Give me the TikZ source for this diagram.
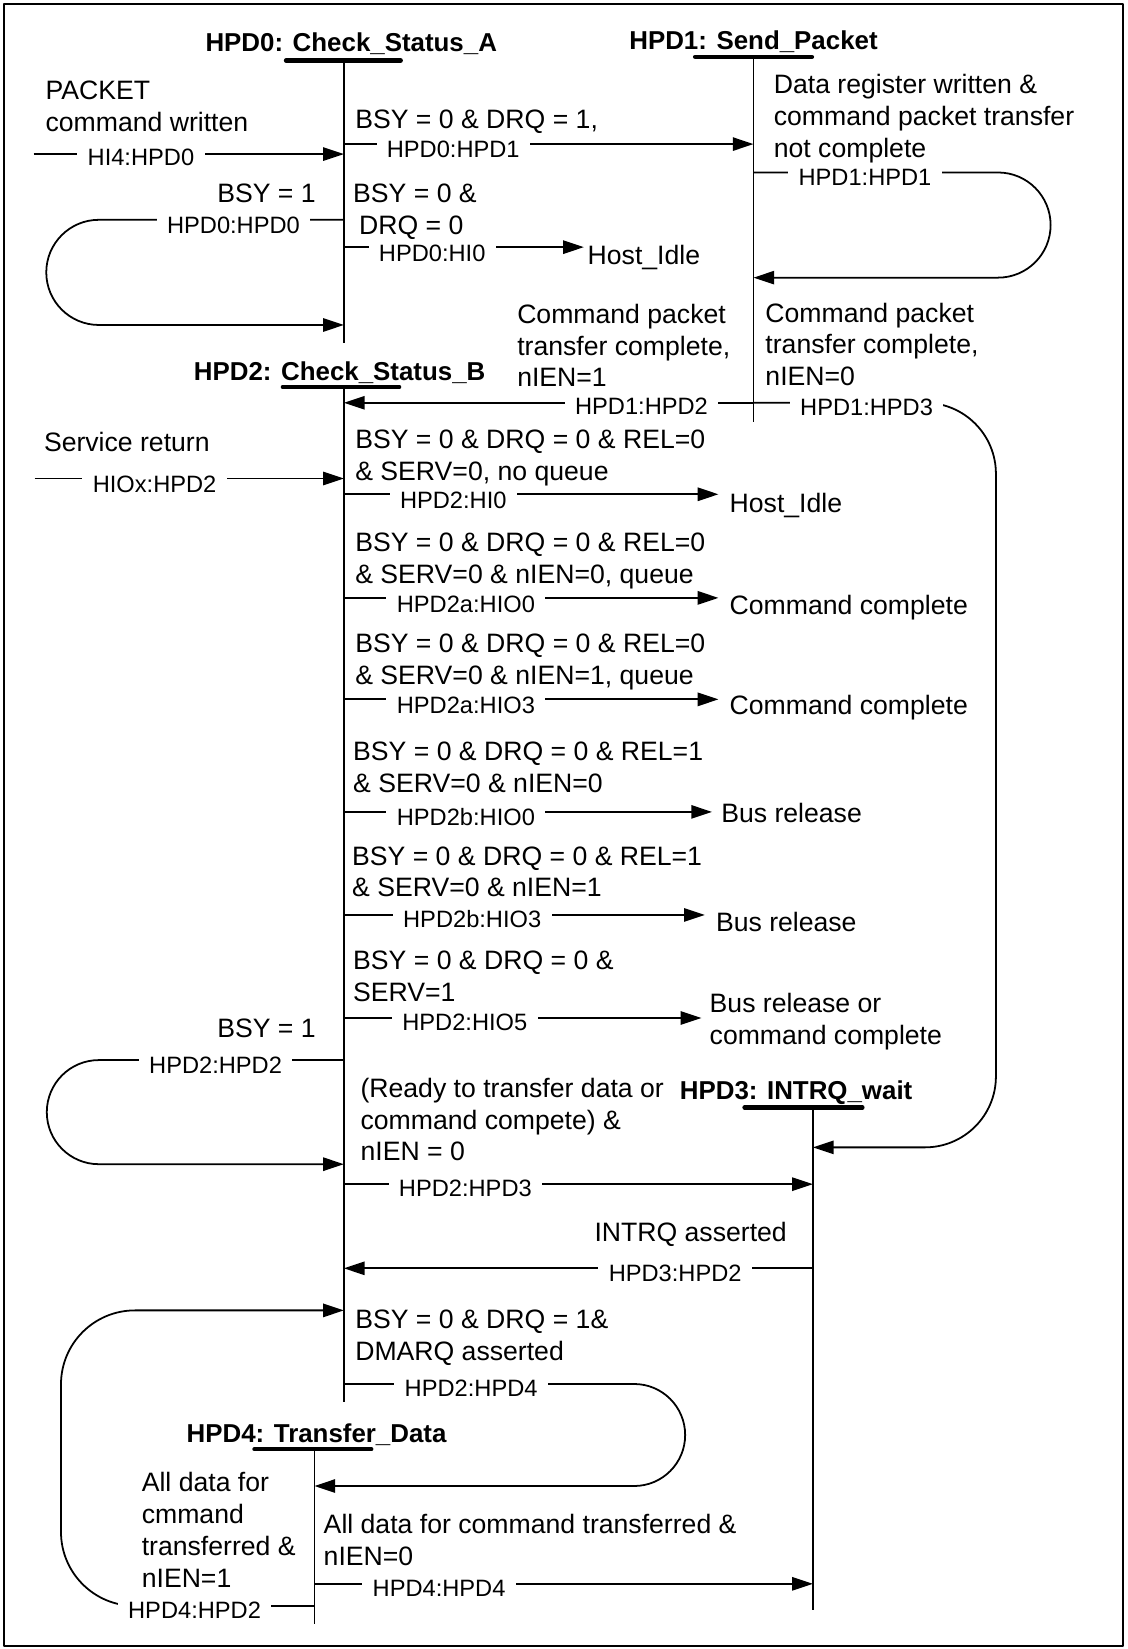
\documentclass[tikz,border=0pt]{standalone}
\usepackage{fontspec}
\setmainfont{Liberation Sans}
\usetikzlibrary{arrows.meta}
\begin{document}
\begin{tikzpicture}[x=0.025cm,y=-0.025cm,line width=1.2pt,line join=round,
  txt/.style={font=\fontsize{18}{21.6}\selectfont,inner sep=0pt,align=left,anchor=north west},
  ttl/.style={font=\fontsize{17.5}{21}\selectfont\bfseries,inner sep=0pt,anchor=base},
  lab/.style={font=\fontsize{16}{19}\selectfont,fill=white,sharp corners,text height=11.5pt,text depth=0pt,inner xsep=7pt,inner ysep=2pt},
  bar/.style={line width=3pt,line cap=round},
  tr/.style={-{Triangle[length=14pt,width=9pt]}}]
\useasboundingbox (0,0) rectangle (1072,1568);
\draw[line width=1.2pt] (4,4) rectangle (1068,1565);
% state columns
\coordinate (v0) at (327,0);
\coordinate (v1) at (716.5,0);
\coordinate (v2) at (327,0);
\coordinate (v3) at (773,0);
\coordinate (v4) at (299,0);
% HPD0
\node[ttl] (hpd0) at (334,48.8) {HPD0: Check\_Status\_A};
\draw[bar] (272,57.5) -- (381,57.5);
\draw (v0 |- 0,57.5) -- (v0 |- 0,326);
\node[txt] (pkt) at (42.5,76) {PACKET\\command written};
\coordinate (in0) at (32,146.5);
\draw[tr] (in0) -- (v0 |- in0) node[lab] (l0) at (134,149.5) {HI4:HPD0};
\node[txt] (c01) at (337,104) {BSY = 0 \& DRQ = 1,};
\draw[tr] (v0 |- 0,137) -- (v1 |- 0,137) node[lab] (l01) at (431,142) {HPD0:HPD1};
\node[txt,anchor=north east] (c00) at (301,174) {BSY = 1};
\draw[tr] (v0 |- 0,209) -- (94,209) arc[start angle=-90,end angle=-270,radius=50] -- (v0 |- 0,309) node[lab] (l00) at (222,214) {HPD0:HPD0};
\node[txt] (c0i) at (335,174) {BSY = 0 \&\\\hspace*{4pt}DRQ = 0};
\node[txt] (idle0) at (558,232) {Host\_Idle};
\draw[tr,shorten >=2pt] (v0 |- 0,235) -- (idle0.west |- 0,235) node[lab] (l0i) at (411,241) {HPD0:HI0};
% HPD1
\node[ttl] (hpd1) at (716.5,46.8) {HPD1: Send\_Packet};
\draw[bar] (661,54) -- (772,54);
\draw (v1 |- 0,54) -- (v1 |- 0,401);
\node[txt] (c11) at (735,70) {Data register written \&\\command packet transfer\\not complete};
\draw[tr] (v1 |- 0,164) -- (949,164) arc[start angle=-90,end angle=90,radius=50] -- (v1 |- 0,264) node[lab] (l11) at (822.5,168) {HPD1:HPD1};
\node[txt] (c12) at (491,288) {Command packet\\transfer complete,\\nIEN=1};
\node[txt] (c13) at (727,287) {Command packet\\transfer complete,\\nIEN=0};
\draw[tr] (v1 |- 0,383) -- (v2 |- 0,383) node[lab] (l12) at (610,386) {HPD1:HPD2};
\draw[tr,rounded corners=48] (v1 |- 0,383) -- (947,383) -- (947,1091) -- (v3 |- 0,1091) node[lab] (l13) at (824,387) {HPD1:HPD3};
% HPD2
\node[ttl] (hpd2) at (323,361.8) {HPD2: Check\_Status\_B};
\draw[bar] (269,368) -- (379.5,368);
\draw (v2 |- 0,368) -- (v2 |- 0,1333);
\node[txt] (svc) at (41,410) {Service return};
\coordinate (in2) at (33,455);
\draw[tr] (in2) -- (v2 |- in2) node[lab] (l2x) at (147,460) {HIOx:HPD2};
\node[txt] (c2a) at (337,408) {BSY = 0 \& DRQ = 0 \& REL=0\\\& SERV=0, no queue};
\node[txt] (idle2) at (693,468) {Host\_Idle};
\draw[tr,shorten >=7pt] (v2 |- 0,470) -- (idle2.west |- 0,470) node[lab] (l2a) at (431,475) {HPD2:HI0};
\node[txt] (c2b) at (337,506) {BSY = 0 \& DRQ = 0 \& REL=0\\\& SERV=0 \& nIEN=0, queue};
\node[txt] (cc2b) at (693,565.5) {Command complete};
\draw[tr,shorten >=7pt] (v2 |- 0,568.5) -- (cc2b.west |- 0,568.5) node[lab] (l2b) at (443,574) {HPD2a:HIO0};
\node[txt] (c2c) at (337,602) {BSY = 0 \& DRQ = 0 \& REL=0\\\& SERV=0 \& nIEN=1, queue};
\node[txt] (cc2c) at (693,660) {Command complete};
\draw[tr,shorten >=7pt] (v2 |- 0,665) -- (cc2c.west |- 0,665) node[lab] (l2c) at (443,670) {HPD2a:HIO3};
\node[txt] (c2d) at (335,705) {BSY = 0 \& DRQ = 0 \& REL=1\\\& SERV=0 \& nIEN=0};
\node[txt] (br2d) at (685,763) {Bus release};
\draw[tr,shorten >=5.7pt] (v2 |- 0,772) -- (br2d.west |- 0,772) node[lab] (l2d) at (443,777) {HPD2b:HIO0};
\node[txt] (c2e) at (334,804) {BSY = 0 \& DRQ = 0 \& REL=1\\\& SERV=0 \& nIEN=1};
\node[txt] (br2e) at (680,867) {Bus release};
\draw[tr,shorten >=7pt] (v2 |- 0,870) -- (br2e.west |- 0,870) node[lab] (l2e) at (449,874) {HPD2b:HIO3};
\node[txt] (c2f) at (335,903) {BSY = 0 \& DRQ = 0 \&\\SERV=1};
\node[txt] (br2f) at (674,944) {Bus release or\\command complete};
\draw[tr,shorten >=5pt] (v2 |- 0,968) -- (br2f.west |- 0,968) node[lab] (l2f) at (442,972) {HPD2:HIO5};
\node[txt,anchor=north east] (c22) at (301,968) {BSY = 1};
\draw[tr] (v2 |- 0,1008) -- (94,1008) arc[start angle=-90,end angle=-270,radius=49.5] -- (v2 |- 0,1107) node[lab] (l22) at (205,1013) {HPD2:HPD2};
\node[txt] (c23) at (342,1024) {(Ready to transfer data or\\command compete) \&\\nIEN = 0};
\draw[tr] (v2 |- 0,1126) -- (v3 |- 0,1126) node[lab] (l23) at (442.5,1130) {HPD2:HPD3};
% HPD3
\node[ttl] (hpd3) at (757,1045.8) {HPD3: INTRQ\_wait};
\draw[bar] (708,1053) -- (820,1053);
\draw (v3 |- 0,1053) -- (v3 |- 0,1531);
\node[txt,anchor=north east] (c32) at (749,1161) {INTRQ asserted};
\draw[tr] (v3 |- 0,1206) -- (v2 |- 0,1206) node[lab] (l32) at (642,1210) {HPD3:HPD2};
\node[txt] (c24) at (337,1245) {BSY = 0 \& DRQ = 1\&\\DMARQ asserted};
\draw[tr] (v2 |- 0,1316) -- (603,1316) arc[start angle=-90,end angle=90,radius=48.5] -- (v4 |- 0,1413) node[lab] (l24) at (448,1320) {HPD2:HPD4};
% HPD4
\node[ttl] (hpd4) at (301,1371.8) {HPD4: Transfer\_Data};
\draw[bar] (242,1378) -- (353,1378);
\draw (v4 |- 0,1378) -- (v4 |- 0,1544);
\node[txt] (c42) at (134,1399) {All data for\\cmmand\\transferred \&\\nIEN=1};
\draw[tr,rounded corners=50] (v4 |- 0,1527) -- (58,1527) -- (58,1246) -- (v2 |- 0,1246) node[lab] (l42) at (185,1531) {HPD4:HPD2};
\node[txt] (c43) at (307,1439) {All data for command transferred \&\\nIEN=0};
\draw[tr] (v4 |- 0,1506) -- (v3 |- 0,1506) node[lab] (l43) at (417.5,1510) {HPD4:HPD4};
\end{tikzpicture}
\end{document}
